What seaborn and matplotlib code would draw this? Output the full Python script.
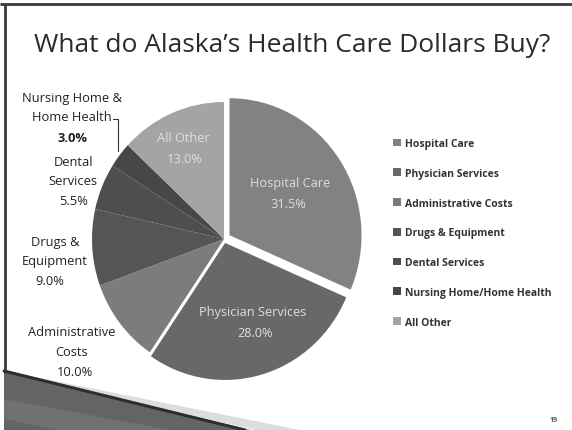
import matplotlib
matplotlib.use("Agg")
import matplotlib.pyplot as plt
import seaborn as sns
import numpy as np

sns.set_theme(style="white")
plt.rcParams['font.family'] = ['Open Sans', 'DejaVu Sans']

title = "What do Alaska\u2019s Health Care Dollars Buy?"
categories = ["Hospital Care", "Physician Services", "Administrative Costs",
              "Drugs & Equipment", "Dental Services", "Nursing Home/Home Health",
              "All Other"]
shares = [31.5, 28.0, 10.0, 9.0, 5.5, 3.0, 13.0]
inside_labels = ["Hospital Care", "Physician Services", None, None, None, None, "All Other"]
outside_labels = [None, None, ["Administrative", "Costs"], ["Drugs &", "Equipment"],
                  ["Dental", "Services"], ["Nursing Home &", "Home Health"], None]
colors = ["#828282", "#686868", "#7c7c7c", "#555555", "#4e4e4e", "#474747", "#a4a4a4"]
explode = [0.05, 0.03, 0, 0, 0, 0, 0]

W, H = 572, 431
fig = plt.figure(figsize=(W / 100, H / 100), dpi=100)
fig.patch.set_facecolor("white")

# decoration layer in pixel coordinates
deco = fig.add_axes([0, 0, 1, 1])
deco.set_xlim(0, W)
deco.set_ylim(H, 0)
deco.axis("off")
deco.plot([0, W], [5, 5], color="#3a3a3a", lw=2.0, solid_capstyle="butt")
deco.plot([5, 5], [5, 374], color="#3a3a3a", lw=2.0, solid_capstyle="butt")
deco.fill([4, 250, 4], [372, 431, 431], color="#646464", zorder=1, lw=0)
deco.fill([4, 170, 60, 4], [400, 431, 431, 420], color="#7a7a7a", zorder=1, lw=0, alpha=0.6)
deco.plot([4, 245], [372, 431], color="#2e2e2e", lw=2.2, zorder=2)
deco.fill([10, 300, 255], [373, 431, 431], color="#dddddd", zorder=0, lw=0)
deco.text(292, 45, title, fontsize=19, color="#2b2b2b", ha="center", va="center")
deco.text(558, 421, "19", fontsize=5, color="#555555", ha="right", va="center",
          fontweight="bold")

# pie (slightly taller than wide, as in the scanned slide)
cx, cy, Rx, Ry = 224, 240, 132, 137
hx, hy = 1.3 * Rx, 1.3 * Ry
ax = fig.add_axes([(cx - hx) / W, (H - cy - hy) / H, 2 * hx / W, 2 * hy / H])
ax.set_xlim(-1.3, 1.3)
ax.set_ylim(-1.3, 1.3)
ax.axis("off")
wedges, _ = ax.pie(shares, colors=colors, explode=explode, startangle=90,
                   counterclock=False, radius=1.0, frame=False,
                   wedgeprops=dict(edgecolor="white", linewidth=0))
ax.set_aspect("auto")
ax.set_xlim(-1.3, 1.3)
ax.set_ylim(-1.3, 1.3)

def px(x, y):
    return ((x - cx) / Rx, (cy - y) / Ry)

inside_pos = {0: [(290, 184), (288, 205)], 1: [(253, 313), (255, 334)],
              6: [(183, 139), (185, 160)]}
for i, ((x1, y1), (x2, y2)) in inside_pos.items():
    ax.text(*px(x1, y1), inside_labels[i], ha="center", va="center",
            fontsize=9.2, color="#dedede")
    ax.text(*px(x2, y2), f"{shares[i]:.1f}%", ha="center", va="center",
            fontsize=9.2, color="#dedede")

outside_pos = {5: [(72, 99), (72, 118), (73, 139)],
               4: [(73, 163), (73, 182), (74, 202)],
               3: [(55, 243), (55, 262), (50, 282)],
               2: [(72, 333), (72, 353), (75, 373)]}
for i, pts in outside_pos.items():
    for (x, y), s in zip(pts[:2], outside_labels[i]):
        ax.text(*px(x, y), s, ha="center", va="center", fontsize=9.3, color="#222222")
    x, y = pts[2]
    ax.text(*px(x, y), f"{shares[i]:.1f}%", ha="center", va="center", fontsize=9.3,
            color="#222222", fontweight="bold" if i == 5 else "normal")

# leader line for nursing home
p1, p2, p3 = px(113, 120), px(118, 120), px(118, 152)
ax.plot([p1[0], p2[0], p3[0]], [p1[1], p2[1], p3[1]], color="#333333", lw=0.8)

leg = fig.legend(wedges, categories, loc="upper left",
                 bbox_to_anchor=(389 / W, 1 - 135 / H), frameon=False,
                 fontsize=7.5, labelspacing=1.8, handlelength=0.75, handleheight=0.75,
                 handletextpad=0.35, borderaxespad=0)
for t in leg.get_texts():
    t.set_fontweight("bold")
    t.set_color("#333333")

fig.savefig("out.png", dpi=100, facecolor="white")
